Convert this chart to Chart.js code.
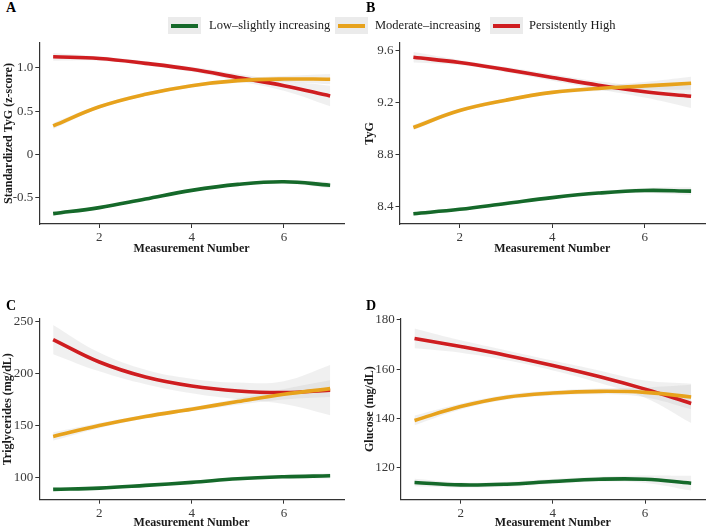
<!DOCTYPE html>
<html><head><meta charset="utf-8">
<script src="https://cdn.jsdelivr.net/npm/chart.js@4"></script>
<style>
html,body{margin:0;padding:0;background:#fff;overflow:hidden;width:708px;height:528px;}
body{position:relative;font-family:"Liberation Serif","Times New Roman",serif;}
canvas{position:absolute;}
.plabel{position:absolute;font-weight:bold;font-size:14px;line-height:14px;z-index:2;color:#000;}
.key{position:absolute;top:17px;width:33px;height:17px;background:#ebebeb;z-index:2;}
.key span{position:absolute;left:3px;right:3px;top:6.5px;height:4px;}
.ltext{position:absolute;top:17px;font-size:12.5px;line-height:17px;color:#1a1a1a;z-index:2;white-space:nowrap;}
</style></head>
<body>
<div class="key" style="left:168px"><span style="background:#15692a"></span></div>
<div class="ltext" style="left:209px">Low–slightly increasing</div>
<div class="key" style="left:335px"><span style="background:#e7a21c"></span></div>
<div class="ltext" style="left:375px">Moderate–increasing</div>
<div class="key" style="left:490px"><span style="background:#cf1d20"></span></div>
<div class="ltext" style="left:529px">Persistently High</div>
<div class="plabel" style="left:6px;top:1px">A</div>
<div class="plabel" style="left:366px;top:1px">B</div>
<div class="plabel" style="left:6px;top:299px">C</div>
<div class="plabel" style="left:366px;top:299px">D</div>
<canvas id="cA"></canvas>
<canvas id="cB"></canvas>
<canvas id="cC"></canvas>
<canvas id="cD"></canvas>
<script>
// ---- data ----
const seriesNames = ['Low–slightly increasing', 'Moderate–increasing', 'Persistently High'];
const measurement = [1, 2, 3, 4, 5, 6, 7];
const xTicks = [2, 4, 6];

// Panel A: Standardized TyG (z-score)
const zLow  = [-0.69, -0.62, -0.52, -0.42, -0.35, -0.32, -0.36];
const zMod  = [0.328, 0.55, 0.695, 0.795, 0.853, 0.872, 0.87];
const zHigh = [1.13, 1.11, 1.054, 0.985, 0.89, 0.795, 0.675];
const zLowCI  = [0.025, 0.015, 0.015, 0.015, 0.015, 0.02, 0.035];
const zModCI  = [0.035, 0.02, 0.02, 0.02, 0.025, 0.035, 0.06];
const zHighCI = [0.045, 0.025, 0.025, 0.03, 0.04, 0.06, 0.12];
const zTicks = [-0.5, 0, 0.5, 1.0];
const zTickLabels = ['-0.5', '0', '0.5', '1.0'];

// Panel B: TyG
const tygLow  = [8.346, 8.38, 8.425, 8.47, 8.505, 8.525, 8.52];
const tygMod  = [9.01, 9.14, 9.22, 9.28, 9.31, 9.33, 9.35];
const tygHigh = [9.55, 9.51, 9.455, 9.395, 9.335, 9.285, 9.25];
const tygLowCI  = [0.015, 0.01, 0.01, 0.01, 0.012, 0.02, 0.03];
const tygModCI  = [0.02, 0.015, 0.015, 0.015, 0.02, 0.03, 0.05];
const tygHighCI = [0.04, 0.02, 0.02, 0.025, 0.03, 0.045, 0.09];
const tygTicks = [8.4, 8.8, 9.2, 9.6];
const tygTickLabels = ['8.4', '8.8', '9.2', '9.6'];

// Panel C: Triglycerides (mg/dL)
const tgLow  = [88.8, 90, 92.6, 95.5, 99, 100.9, 101.8];
const tgMod  = [139.6, 150, 158.7, 165.7, 173, 180, 185.4];
const tgHigh = [232.5, 211, 196.6, 188, 183.2, 181.6, 184];
const tgLowCI  = [1.5, 1, 1, 1, 1, 1.5, 2.5];
const tgModCI  = [4, 2.5, 2, 2, 3, 5, 8];
const tgHighCI = [14, 9, 7, 7, 8, 11, 24];
const tgTicks = [100, 150, 200, 250];
const tgTickLabels = ['100', '150', '200', '250'];

// Panel D: Glucose (mg/dL)
const gluLow  = [114, 113, 113.3, 114.4, 115.3, 115.3, 113.7];
const gluMod  = [139.2, 144.8, 148.6, 150.3, 151, 150.6, 148.7];
const gluHigh = [172.5, 169.2, 165.6, 161.5, 157.0, 151.9, 146.1];
const gluLowCI  = [1.5, 1, 1, 1, 1, 1.5, 3];
const gluModCI  = [2, 1.2, 1, 1, 1.2, 2, 5];
const gluHighCI = [4, 2.5, 2, 2, 2.5, 3.5, 8];
const gluTicks = [120, 140, 160, 180];
const gluTickLabels = ['120', '140', '160', '180'];

// ---- styling ----
const colors = ['#15692a', '#e7a21c', '#cf1d20'];
const bandColor = 'rgba(170,170,170,0.18)';
const axisColor = '#333333';
const tickFont = {family: '"Liberation Serif", "Times New Roman", serif', size: 13};
const titleFont = {family: '"Liberation Serif", "Times New Roman", serif', size: 12, weight: 'bold'};

function pts(vals, hw, sign) {
  return vals.map((v, i) => ({x: measurement[i], y: v + (hw ? sign * hw[i] : 0)}));
}

function makePanel(id, box, area, yTitle, yTitlePad, series, ci, yMin, yMax, yTicks, yLabels) {
  const cv = document.getElementById(id);
  cv.style.left = box.left + 'px';
  cv.style.top = box.top + 'px';
  cv.width = box.w; cv.height = box.h;
  cv.style.width = box.w + 'px'; cv.style.height = box.h + 'px';
  const datasets = [];
  series.forEach((vals, k) => {
    datasets.push({label: seriesNames[k], data: pts(vals), borderColor: colors[k], borderWidth: 3.6,
      pointRadius: 0, fill: false, tension: 0.4, order: 0, borderCapStyle: 'butt'});
  });
  series.forEach((vals, k) => {
    datasets.push({label: 'lo' + k, data: pts(vals, ci[k], -1), borderWidth: 0, borderColor: 'rgba(0,0,0,0)',
      pointRadius: 0, fill: false, tension: 0.4, order: 1});
    datasets.push({label: 'hi' + k, data: pts(vals, ci[k], 1), borderWidth: 0, borderColor: 'rgba(0,0,0,0)',
      backgroundColor: bandColor, pointRadius: 0, fill: '-1', tension: 0.4, order: 1});
  });
  new Chart(cv, {
    type: 'line',
    data: {datasets},
    options: {
      responsive: false, animation: false, devicePixelRatio: 1,
      layout: {padding: {left: 0, top: area.t - box.top, right: box.left + box.w - area.r, bottom: 0}},
      plugins: {legend: {display: false}, tooltip: {enabled: false}},
      scales: {
        x: {
          type: 'linear', min: 0.7, max: 7.3,
          afterBuildTicks: s => { s.ticks = xTicks.map(v => ({value: v})); },
          afterFit: s => { s.height = box.top + box.h - area.b; },
          ticks: {font: tickFont, color: '#3a3a3a', padding: 2, maxRotation: 0, callback: v => String(v)},
          grid: {display: true, drawOnChartArea: false, drawTicks: true, tickLength: 4, color: axisColor, lineWidth: 1},
          border: {display: true, color: axisColor, width: 1.2},
          title: {display: true, text: 'Measurement Number', font: titleFont, color: '#1a1a1a', padding: {top: 0, bottom: 5.5}}
        },
        y: {
          type: 'linear', min: yMin, max: yMax,
          afterBuildTicks: s => { s.ticks = yTicks.map(v => ({value: v})); },
          afterFit: s => { s.width = area.l - box.left; },
          ticks: {font: tickFont, color: '#3a3a3a', padding: 2,
            callback: v => { const i = yTicks.findIndex(t => Math.abs(t - v) < 1e-9); return i >= 0 ? yLabels[i] : ''; }},
          grid: {display: true, drawOnChartArea: false, drawTicks: true, tickLength: 4, color: axisColor, lineWidth: 1},
          border: {display: true, color: axisColor, width: 1.2},
          title: {display: true, text: yTitle, font: titleFont, color: '#1a1a1a', padding: {top: yTitlePad, bottom: 0}}
        }
      }
    }
  });
}

makePanel('cA', {left: 0, top: 30, w: 354, h: 232}, {l: 39.3, t: 43, r: 344, b: 224},
  'Standardized TyG (z-score)', 1.5, [zLow, zMod, zHigh], [zLowCI, zModCI, zHighCI], -0.81, 1.29, zTicks, zTickLabels);
makePanel('cB', {left: 354, top: 30, w: 354, h: 232}, {l: 399.5, t: 43, r: 705, b: 224},
  'TyG', 9, [tygLow, tygMod, tygHigh], [tygLowCI, tygModCI, tygHighCI], 8.267, 9.66, tygTicks, tygTickLabels);
makePanel('cC', {left: 0, top: 305, w: 354, h: 231}, {l: 39.3, t: 318.7, r: 344, b: 499.7},
  'Triglycerides (mg/dL)', 0.5, [tgLow, tgMod, tgHigh], [tgLowCI, tgModCI, tgHighCI], 78.9, 252.5, tgTicks, tgTickLabels);
makePanel('cD', {left: 354, top: 305, w: 354, h: 231}, {l: 400.7, t: 318.7, r: 705, b: 499.7},
  'Glucose (mg/dL)', 8.5, [gluLow, gluMod, gluHigh], [gluLowCI, gluModCI, gluHighCI], 107, 180.5, gluTicks, gluTickLabels);
</script>
</body></html>
